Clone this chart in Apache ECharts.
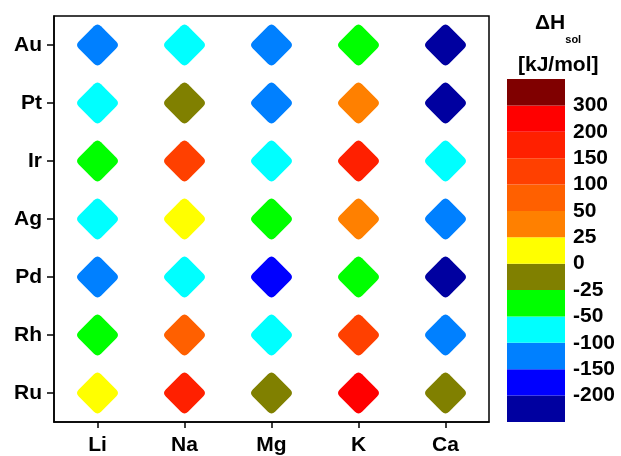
<!DOCTYPE html>
<html><head><meta charset="utf-8">
<script src="https://cdn.jsdelivr.net/npm/echarts@6/dist/echarts.min.js"></script>
<style>html,body{margin:0;padding:0;background:#fff}#c{width:621px;height:456px}</style>
</head><body><div id="c"></div>
<script>
const metals = ['Li','Na','Mg','K','Ca'];
const rowsBottomUp = ['Ru','Rh','Pd','Ag','Ir','Pt','Au'];
// ΔHsol estimates (kJ/mol), read from colour bands
const Au = [-125, -75, -125, -37, -250];
const Pt = [-75, -12, -125, 37, -250];
const Ir = [-37, 125, -75, 175, -75];
const Ag = [-75, 12, -37, 37, -125];
const Pd = [-125, -75, -175, -37, -250];
const Rh = [-37, 75, -75, 125, -125];
const Ru = [12, 175, -12, 250, -12];
// colour bands, bottom to top
const bandBounds = [-200,-150,-100,-50,-25,0,25,50,100,150,200,300];
const bandColors = ['#0000a0','#0000ff','#0080ff','#00ffff','#00ff00','#808000','#ffff00','#ff8000','#ff6000','#ff4000','#ff2000','#ff0000','#800000'];

const rows = {Au, Pt, Ir, Ag, Pd, Rh, Ru};
const data = [];
rowsBottomUp.forEach(r => rows[r].forEach((v, i) => data.push([metals[i], r, v])));

const pieces = bandColors.map((c, i) => {
  const p = {color: c};
  if (i > 0) p.gte = bandBounds[i-1];
  if (i < bandBounds.length) p.lt = bandBounds[i];
  return p;
});

const diamond = 'path://M42,8 Q50,0 58,8 L92,42 Q100,50 92,58 L58,92 Q50,100 42,92 L8,58 Q0,50 8,42 Z';
const font = 'Liberation Sans, Arial, sans-serif';
const chart = echarts.init(document.getElementById('c'));
chart.setOption({
  animation: false,
  backgroundColor: '#fff',
  grid: [
    {left: 54, top: 16, width: 435, height: 407, show: true, borderColor: '#000', borderWidth: 1.5, backgroundColor: 'transparent'},
    {left: 507, top: 79, width: 58, height: 343}
  ],
  title: [
    {text: '{a|ΔH}{s|sol}', left: 530, top: 8,
     textStyle: {rich: {a: {fontSize: 21, fontWeight: 'bold', fontFamily: font, color: '#000'},
                        s: {fontSize: 11, fontWeight: 'bold', fontFamily: font, color: '#000', verticalAlign: 'bottom', padding: [0,0,-11,0]}}}},
    {text: '[kJ/mol]', left: 513, top: 50, textStyle: {fontSize: 21, fontWeight: 'bold', fontFamily: font, color: '#000'}}
  ],
  xAxis: [
    {type: 'category', data: metals, gridIndex: 0, boundaryGap: true,
     axisLine: {show: true, lineStyle: {color: '#000', width: 1.5}},
     axisTick: {show: true, alignWithLabel: true, length: 6, lineStyle: {color: '#000', width: 1.5}},
     axisLabel: {color: '#000', fontSize: 21, fontWeight: 'bold', fontFamily: font, margin: 13},
     splitLine: {show: false}},
    {type: 'value', gridIndex: 1, min: 0, max: 1, show: false}
  ],
  yAxis: [
    {type: 'category', data: rowsBottomUp, gridIndex: 0, boundaryGap: true,
     axisLine: {show: true, lineStyle: {color: '#000', width: 1.5}},
     axisTick: {show: true, alignWithLabel: true, length: 7, lineStyle: {color: '#000', width: 1.5}},
     axisLabel: {color: '#000', fontSize: 21, fontWeight: 'bold', fontFamily: font, margin: 12},
     splitLine: {show: false}},
    {type: 'value', gridIndex: 1, min: 0, max: 13, interval: 1, position: 'right',
     axisLine: {show: false}, axisTick: {show: false}, splitLine: {show: false},
     axisLabel: {color: '#000', fontSize: 21, fontWeight: 'bold', fontFamily: font, margin: 8,
       formatter: v => (v >= 1 && v <= 12) ? String(bandBounds[v-1]) : ''}}
  ],
  visualMap: {type: 'piecewise', show: false, seriesIndex: 0, dimension: 2, pieces: pieces},
  series: [
    {type: 'scatter', xAxisIndex: 0, yAxisIndex: 0, data: data,
     symbol: diamond, symbolSize: 41,
     itemStyle: {opacity: 1}},
    {type: 'custom', xAxisIndex: 1, yAxisIndex: 1,
     data: bandColors.map((c, i) => [i]),
     renderItem: (params, api) => {
       const i = api.value(0);
       const p0 = api.coord([0, i]);
       const p1 = api.coord([1, i + 1]);
       return {type: 'rect', shape: {x: p0[0], y: p1[1], width: p1[0] - p0[0], height: p0[1] - p1[1]},
               style: {fill: bandColors[i]}};
     }}
  ]
});
</script></body></html>
